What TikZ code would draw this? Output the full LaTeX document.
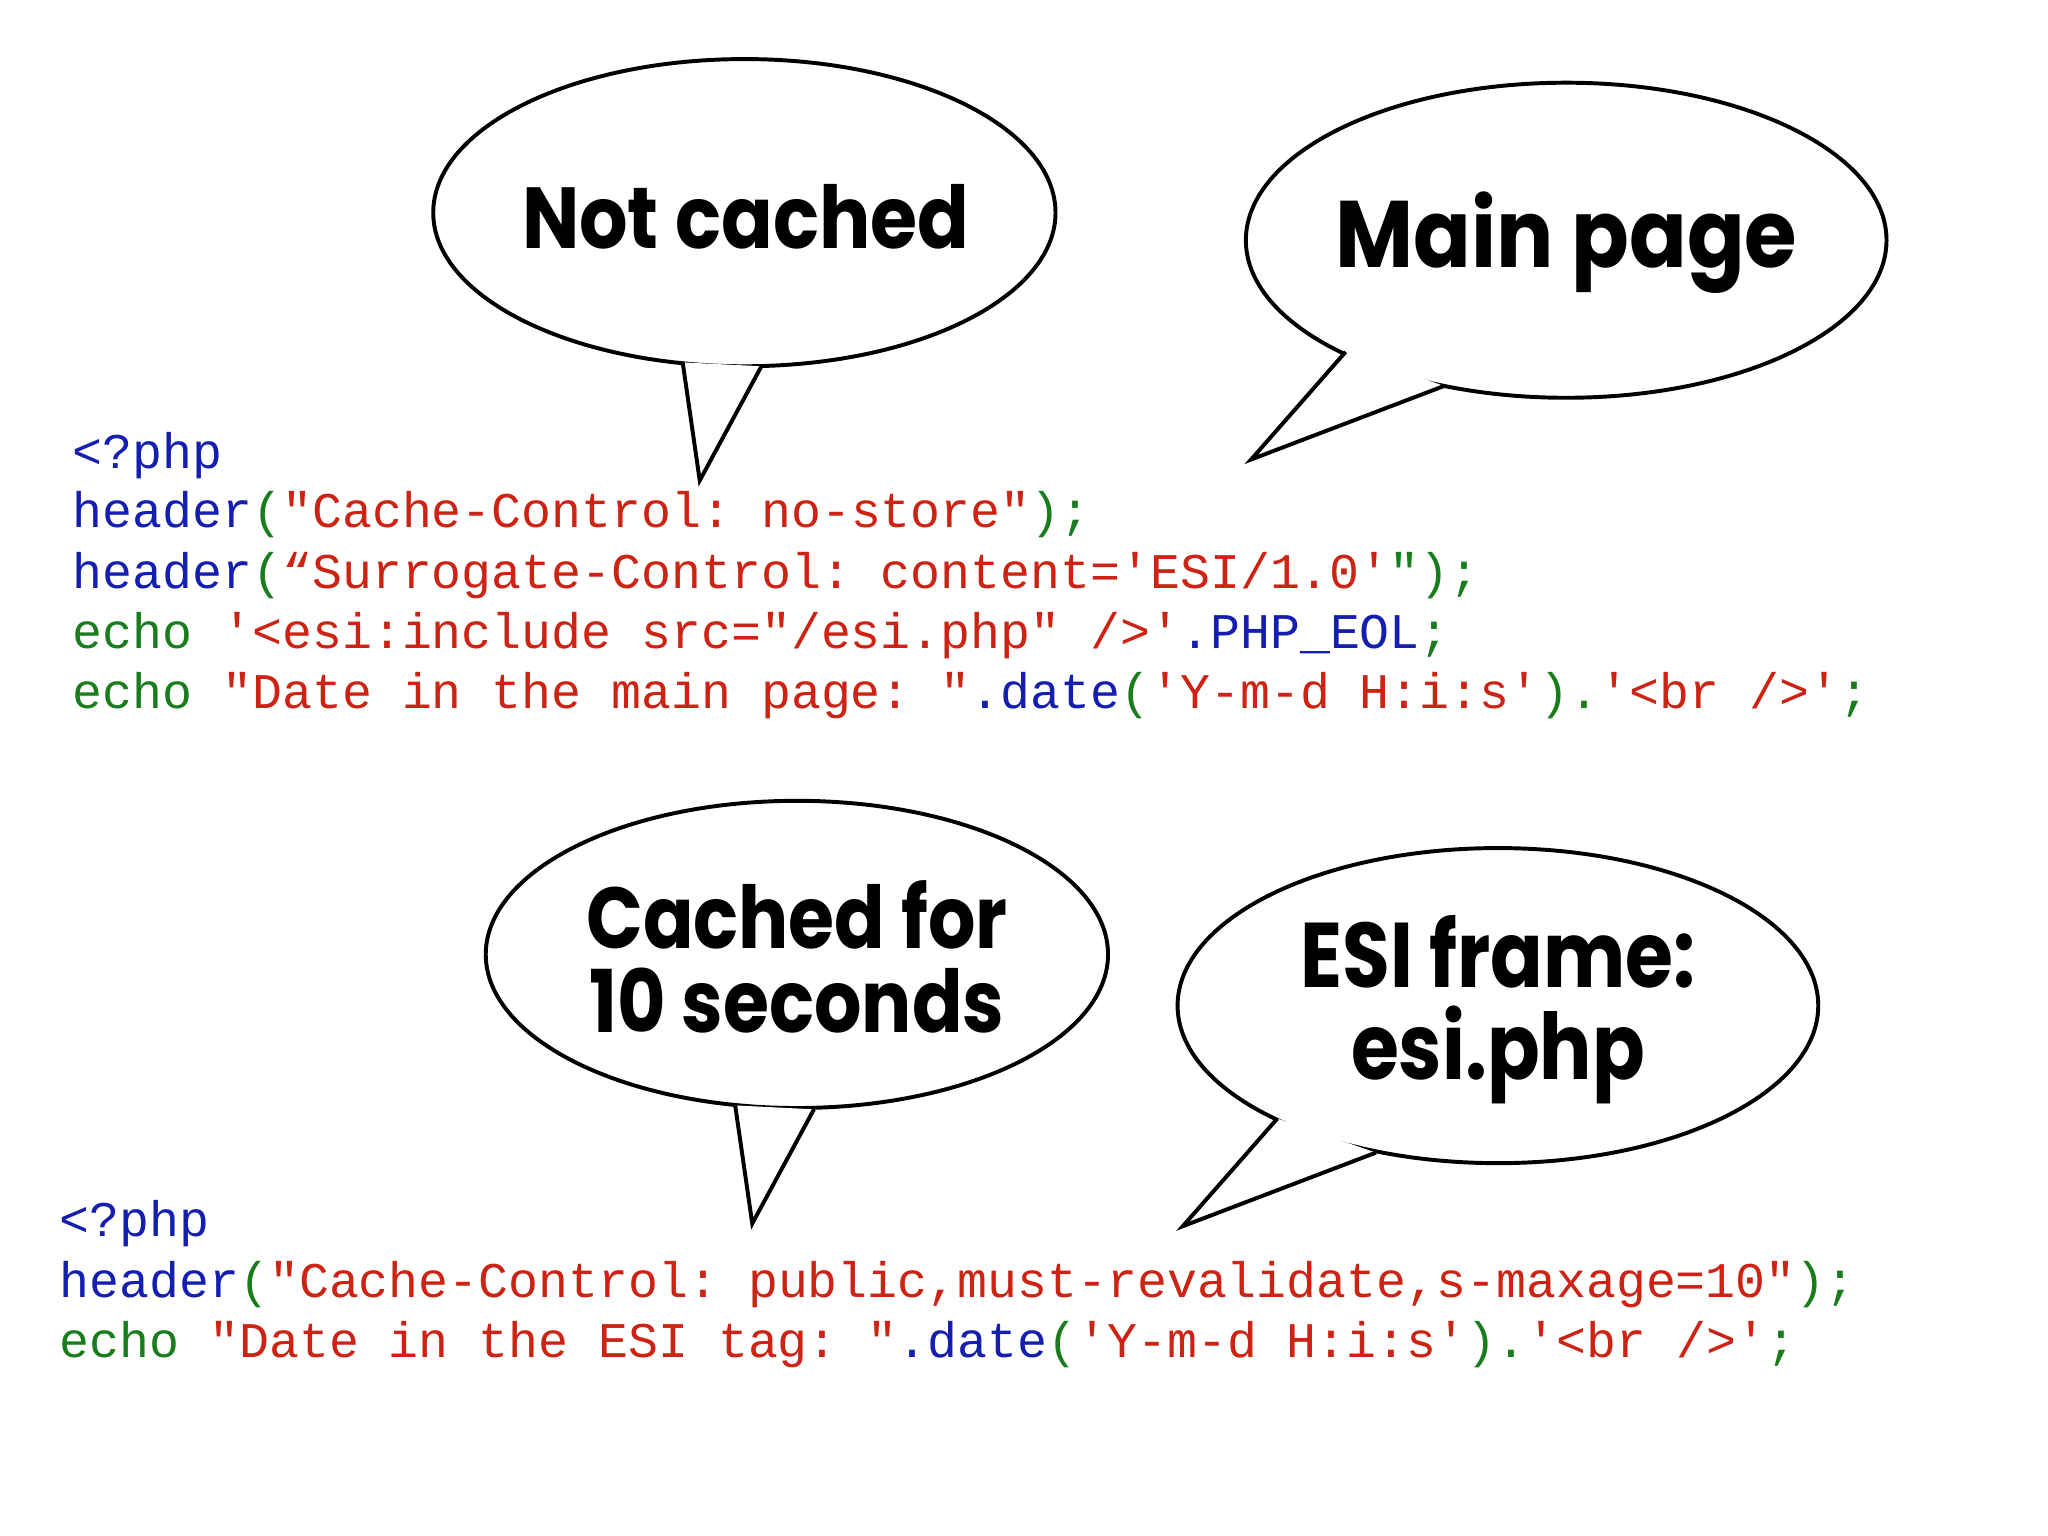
\documentclass[tikz,border=0pt]{standalone}
\usepackage{fontspec}
\setmonofont{Liberation Mono}
\newfontfamily\bub{Poppins}
\definecolor{cb}{RGB}{20,30,175}
\definecolor{cr}{RGB}{205,35,20}
\definecolor{cg}{RGB}{25,125,30}
\newcommand{\cB}[1]{\textcolor{cb}{#1}}
\newcommand{\cR}[1]{\textcolor{cr}{#1}}
\newcommand{\cG}[1]{\textcolor{cg}{#1}}
\begin{document}
\begin{tikzpicture}[x=0.5pt,y=-0.5pt,
  code/.style={anchor=base west,inner sep=0pt,font=\fontsize{19}{22}\ttfamily},
  btxt/.style={inner sep=0pt,align=center,font=\fontsize{33}{34}\bub\bfseries},
  bl/.style={line width=1.5pt,line join=miter}]
\useasboundingbox[fill=white] (0,0) rectangle (1560,1170);
\newcommand{\bubble}[9]{%
  \draw[bl,fill=white] (#1,#2) ellipse [x radius=#3,y radius=#4];
  \fill[white] (#5) -- (#6) -- (#7) -- cycle;
  \draw[bl] (#5) -- (#6) -- (#7);}
\coordinate (a1) at (520,276); \coordinate (t1) at (533,366); \coordinate (b1) at (580,279);
\bubble{567}{162}{237}{117}{a1}{t1}{b1}{}{}
\coordinate (a2) at (1025,268); \coordinate (t2) at (953,350); \coordinate (b2) at (1100,294);
\bubble{1193}{183}{244}{120}{a2}{t2}{b2}{}{}
\coordinate (a3) at (560,842); \coordinate (t3) at (573,932); \coordinate (b3) at (620,845);
\bubble{607}{727}{237}{117}{a3}{t3}{b3}{}{}
\coordinate (a4) at (973,852); \coordinate (t4) at (901,934); \coordinate (b4) at (1048,878);
\bubble{1141}{766}{244}{120}{a4}{t4}{b4}{}{}
\node[btxt] (n1) at (568,165) {\scalebox{0.88}[1]{Not cached}};
\node[btxt,font=\fontsize{36}{37}\bub\bfseries] (n2) at (1193,185) {\scalebox{0.9}[1]{Main page}};
\node[btxt] (n3) at (607,729) {\scalebox{0.86}[1]{Cached for}\\[-2pt]\scalebox{0.86}[1]{10 seconds}};
\node[btxt,font=\fontsize{35}{36}\bub\bfseries] (n4) at (1141,769) {\scalebox{0.845}[1]{ESI frame:}\\[-1pt]\scalebox{0.845}[1]{esi.php}};
\node[code] (l1) at (55,357) {\cB{<?php}};
\node[code] (l2) at (55,402) {\cB{header}\cG{(}\cR{"Cache-Control: no-store"}\cG{);}};
\node[code] (l3) at (55,448) {\cB{header}\cG{(}\cR{“Surrogate-Control: content='ESI/1.0'}\cG{");}};
\node[code] (l4) at (55,494) {\cG{echo }\cR{'<esi:include src="/esi.php" />'}\cB{.PHP\_EOL}\cG{;}};
\node[code] (l5) at (55,540) {\cG{echo }\cR{"Date in the main page: "}\cB{.date}\cG{(}\cR{'Y-m-d H:i:s'}\cG{).}\cR{'<br />'}\cG{;}};
\node[code] (m1) at (45,942) {\cB{<?php}};
\node[code] (m2) at (45,988) {\cB{header}\cG{(}\cR{"Cache-Control: public,must-revalidate,s-maxage=10"}\cG{);}};
\node[code] (m3) at (45,1034) {\cG{echo }\cR{"Date in the ESI tag: "}\cB{.date}\cG{(}\cR{'Y-m-d H:i:s'}\cG{).}\cR{'<br />'}\cG{;}};
\end{tikzpicture}
\end{document}
